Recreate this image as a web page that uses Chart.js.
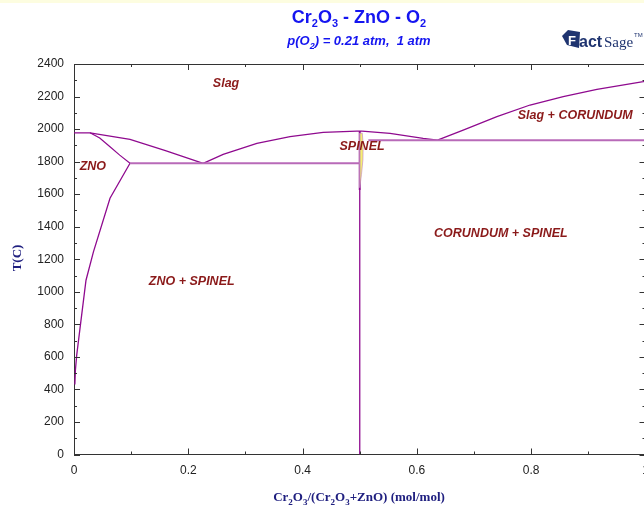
<!DOCTYPE html>
<html>
<head>
<meta charset="utf-8">
<script src="https://cdn.jsdelivr.net/npm/chart.js@4/dist/chart.umd.min.js"></script>
<style>
  html, body { margin: 0; padding: 0; background: #fff; overflow: hidden; }
  #strip { position: absolute; left: 0; top: 0; width: 644px; height: 3px; background: #fdfde0; }
  canvas { display: block; }
</style>
</head>
<body>
<div id="strip"></div>
<canvas id="chart" width="660" height="510"></canvas>
<script>
// Phase boundaries: x = Cr2O3/(Cr2O3+ZnO), T in C
const liqZnoX = [0, 0.028, 0.098, 0.16, 0.226];
const liqZnoT = [1977, 1977, 1937, 1868, 1789];
const znoUpperX = [0.028, 0.045, 0.063, 0.08, 0.098];
const znoUpperT = [1977, 1945, 1891, 1840, 1790];
const znoLowerX = [0.098, 0.063, 0.034, 0.021, 0.0105, 0.0047, 0.0025, 0.0015];
const znoLowerT = [1790, 1575, 1245, 1071, 775, 609, 520, 430];
const spinelLiqLeftX = [0.226, 0.261, 0.320, 0.378, 0.436, 0.495, 0.504];
const spinelLiqLeftT = [1789, 1844, 1912, 1953, 1980, 1988, 1988];
const spinelLiqRightX = [0.504, 0.553, 0.611, 0.636];
const spinelLiqRightT = [1988, 1974, 1943, 1932];
const corLiqX = [0.636, 0.681, 0.740, 0.798, 0.856, 0.915, 0.996, 1.0];
const corLiqT = [1932, 1994, 2076, 2148, 2199, 2244, 2291, 2294];
const eut1X = [0.098, 0.5];
const eut1T = [1790, 1790];
const eut2X = [0.515, 1.0];
const eut2T = [1932, 1932];
const spinelLineX = [0.5, 0.5];
const spinelLineT = [0, 1625];
const spinelThickX = [0.5, 0.5];
const spinelThickT = [1625, 1988];
const spinelAreaX = [0.5, 0.503, 0.5055, 0.506, 0.5045, 0.5, 0.5];
const spinelAreaT = [1640, 1720, 1810, 1900, 1975, 1975, 1640];

const xTicks = [0, 0.2, 0.4, 0.6, 0.8, 1];
const yTicks = [0, 200, 400, 600, 800, 1000, 1200, 1400, 1600, 1800, 2000, 2200, 2400];

// Region labels [text, x, T]
const regionLabels = [
  ['Slag', 0.266, 2277],
  ['ZNO', 0.033, 1772],
  ['SPINEL', 0.504, 1893],
  ['Slag + CORUNDUM', 0.877, 2086],
  ['CORUNDUM + SPINEL', 0.747, 1360],
  ['ZNO + SPINEL', 0.206, 1065],
];

const DARK = '#8f0a8f';
const LIGHT = '#b86ab8';

function pts(xs, ts) { return xs.map((x, i) => ({ x, y: ts[i] })); }
function line(xs, ts, color, width) {
  return { data: pts(xs, ts), showLine: true, borderColor: color, borderWidth: width,
    pointRadius: 0, fill: false, tension: 0 };
}

// text with subscripts: parts = [[text, isSub], ...]
function drawRich(ctx, parts, cx, y, font, subFont, color) {
  ctx.save();
  ctx.fillStyle = color;
  ctx.textBaseline = 'alphabetic';
  ctx.textAlign = 'left';
  let w = 0;
  parts.forEach(([t, sub]) => { ctx.font = sub ? subFont : font; w += ctx.measureText(t).width; });
  let x = cx - w / 2;
  parts.forEach(([t, sub]) => {
    ctx.font = sub ? subFont : font;
    ctx.fillText(t, x, sub ? y + 4 : y);
    x += ctx.measureText(t).width;
  });
  ctx.restore();
}

const decorPlugin = {
  id: 'decor',
  afterDatasetsDraw(chart) {
    const { ctx, chartArea: a, scales: { x, y } } = chart;
    ctx.save();
    // frame
    ctx.strokeStyle = '#333';
    ctx.lineWidth = 1;
    ctx.beginPath();
    ctx.moveTo(a.left, a.top + 0.5); ctx.lineTo(a.right, a.top + 0.5);
    ctx.moveTo(a.right - 0.5, a.top); ctx.lineTo(a.right - 0.5, a.bottom);
    ctx.stroke();
    // inward ticks
    ctx.beginPath();
    for (let v = 0; v <= 1.0001; v += 0.1) {
      const px = Math.round(x.getPixelForValue(v)) + 0.5;
      const len = Math.round(v * 10) % 2 === 0 ? 6 : 3;
      ctx.moveTo(px, a.bottom); ctx.lineTo(px, a.bottom - len);
      ctx.moveTo(px, a.top); ctx.lineTo(px, a.top + len);
    }
    for (let v = 0; v <= 2400; v += 100) {
      const py = Math.round(y.getPixelForValue(v)) + 0.5;
      const len = v % 200 === 0 ? 6 : 3;
      ctx.moveTo(a.left, py); ctx.lineTo(a.left + len, py);
      ctx.moveTo(a.right, py); ctx.lineTo(a.right - len, py);
    }
    ctx.stroke();
    // region labels
    ctx.fillStyle = '#8b1a1a';
    ctx.font = 'italic bold 12.5px "Liberation Sans", Arial, sans-serif';
    ctx.textAlign = 'center';
    ctx.textBaseline = 'middle';
    regionLabels.forEach(([t, vx, vy]) => ctx.fillText(t, x.getPixelForValue(vx), y.getPixelForValue(vy)));
    ctx.restore();

    // titles
    const tf = 'bold 18px "Liberation Sans", Arial, sans-serif';
    const ts = 'bold 11px "Liberation Sans", Arial, sans-serif';
    drawRich(ctx, [['Cr', 0], ['2', 1], ['O', 0], ['3', 1], [' - ZnO - O', 0], ['2', 1]], 359, 23, tf, ts, '#1515f0');
    const sf = 'italic bold 13px "Liberation Sans", Arial, sans-serif';
    const ss = 'italic bold 9px "Liberation Sans", Arial, sans-serif';
    drawRich(ctx, [['p(O', 0], ['2', 1], [') = 0.21 atm,  1 atm', 0]], 359, 45, sf, ss, '#1515f0');
    // axis titles
    const xf = 'bold 13px "Liberation Serif", "Times New Roman", serif';
    const xs = 'bold 9px "Liberation Serif", "Times New Roman", serif';
    drawRich(ctx, [['Cr', 0], ['2', 1], ['O', 0], ['3', 1], ['/(Cr', 0], ['2', 1], ['O', 0], ['3', 1], ['+ZnO) (mol/mol)', 0]],
      359, 501, xf, xs, '#202080');
    ctx.save();
    ctx.translate(21, 258);
    ctx.rotate(-Math.PI / 2);
    ctx.fillStyle = '#202080';
    ctx.font = xf;
    ctx.textAlign = 'center';
    ctx.fillText('T(C)', 0, 0);
    ctx.restore();

    // FactSage logo
    ctx.save();
    ctx.fillStyle = '#1f3470';
    ctx.beginPath();
    ctx.moveTo(562, 36); ctx.lineTo(568, 30); ctx.lineTo(580, 32); ctx.lineTo(579, 48); ctx.lineTo(567, 45);
    ctx.closePath();
    ctx.fill();
    ctx.fillStyle = '#fff';
    ctx.font = 'bold 13px "Liberation Sans", Arial, sans-serif';
    ctx.fillText('F', 568, 45);
    ctx.fillStyle = '#1f3470';
    ctx.font = 'bold 16px "Liberation Sans", Arial, sans-serif';
    ctx.fillText('act', 579, 47);
    ctx.font = '15px "Liberation Serif", serif';
    ctx.fillText('Sage', 604, 47);
    ctx.font = '6px "Liberation Sans", Arial, sans-serif';
    ctx.fillText('TM', 634, 37);
    ctx.restore();
  }
};

const datasets = [
  Object.assign(line(spinelAreaX, spinelAreaT, '#c080c0', 0.6), { fill: 'shape', backgroundColor: '#f5f070' }),
  line(eut1X, eut1T, LIGHT, 2),
  line(eut2X, eut2T, LIGHT, 2),
  line(liqZnoX, liqZnoT, DARK, 1.3),
  line(znoUpperX, znoUpperT, DARK, 1.2),
  line(znoLowerX, znoLowerT, DARK, 1.3),
  line(spinelLiqLeftX, spinelLiqLeftT, DARK, 1.3),
  line(spinelLiqRightX, spinelLiqRightT, DARK, 1.3),
  line(corLiqX, corLiqT, DARK, 1.3),
  line(spinelLineX, spinelLineT, DARK, 1.3),
  line(spinelThickX, spinelThickT, DARK, 2),
];

new Chart(document.getElementById('chart'), {
  type: 'scatter',
  data: { datasets },
  options: {
    responsive: false,
    animation: false,
    layout: { padding: { top: 64, right: 14.5, left: 0, bottom: 0 } },
    plugins: { legend: { display: false }, tooltip: { enabled: false } },
    scales: {
      x: {
        type: 'linear', min: 0, max: 1,
        afterBuildTicks: s => { s.ticks = xTicks.map(v => ({ value: v })); },
        afterFit: s => { s.height = 55.5; },
        grid: { display: false, drawTicks: false },
        border: { display: true, color: '#333', width: 1 },
        ticks: { padding: 9, color: '#222', font: { family: '"Liberation Sans", Arial, sans-serif', size: 12 },
          callback: v => String(v) }
      },
      y: {
        type: 'linear', min: 0, max: 2400,
        afterBuildTicks: s => { s.ticks = yTicks.map(v => ({ value: v })); },
        afterFit: s => { s.width = 74; },
        grid: { display: false, drawTicks: false },
        border: { display: true, color: '#333', width: 1 },
        ticks: { padding: 10, color: '#222', font: { family: '"Liberation Sans", Arial, sans-serif', size: 12 },
          callback: v => String(v) }
      }
    }
  },
  plugins: [decorPlugin]
});
</script>
</body>
</html>
